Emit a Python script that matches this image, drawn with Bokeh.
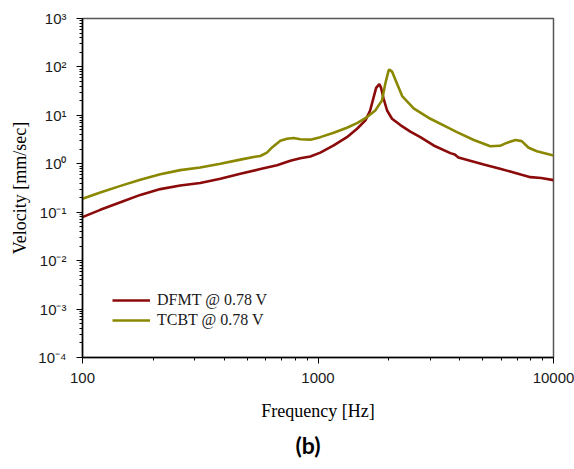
from bokeh.plotting import figure
from bokeh.models import FixedTicker, CustomJSTickFormatter, Range1d, Title
from bokeh.embed import file_html
from bokeh.resources import INLINE

# ---- data ----
dfmt_freq = [100, 119, 145, 176, 214, 260, 316, 385, 468, 569, 670, 763, 841, 928,
             1023, 1166, 1327, 1465, 1590, 1665, 1720, 1766, 1821, 1850, 1900, 1965,
             2062, 2238, 2466, 2720, 3098, 3648, 3810, 3945, 5056, 5930, 7260, 7980,
             8860, 10000]
dfmt_vel = [0.079, 0.112, 0.16, 0.228, 0.30, 0.356, 0.40, 0.49, 0.62, 0.78, 0.93, 1.15,
            1.30, 1.42, 1.70, 2.39, 3.55, 5.3, 7.9, 12.6, 23.0, 37.0, 44.0, 38.0, 22.0,
            12.6, 8.5, 6.3, 4.6, 3.55, 2.39, 1.66, 1.56, 1.35, 0.97, 0.79, 0.60, 0.53,
            0.51, 0.46]

tcbt_freq = [100, 119, 145, 176, 214, 260, 316, 385, 468, 540, 569, 607, 640, 692, 738,
             788, 841, 928, 1023, 1166, 1327, 1465, 1616, 1751, 1870, 1930, 1995, 2010,
             2062, 2166, 2277, 2548, 3000, 3532, 3890, 4590, 5390, 5930, 6320, 6900,
             7330, 7840, 8500, 10000]
tcbt_vel = [0.189, 0.255, 0.35, 0.47, 0.61, 0.74, 0.84, 1.0, 1.22, 1.40, 1.45, 1.7, 2.2,
            3.0, 3.3, 3.4, 3.2, 3.15, 3.55, 4.37, 5.56, 6.92, 9.2, 12.6, 20.4, 45.0, 85.0,
            88.0, 80.0, 45.0, 25.0, 14.0, 8.5, 5.7, 4.5, 3.1, 2.31, 2.35, 2.7, 3.1, 2.94,
            2.14, 1.82, 1.49]

series_names = ["DFMT @ 0.78 V", "TCBT @ 0.78 V"]
series_colors = ["#8b0a0a", "#8a8800"]

x_major = [100, 1000, 10000]
y_major = [1e-4, 1e-3, 1e-2, 1e-1, 1, 10, 100, 1000]
x_minor = [m * 10 ** k for k in (2, 3) for m in range(2, 10)]
y_minor = [m * 10.0 ** k for k in range(-4, 3) for m in range(2, 10)]

p = figure(width=574, height=469, x_axis_type="log", y_axis_type="log",
           x_range=Range1d(100, 10000), y_range=Range1d(1e-4, 1e3),
           output_backend="svg", toolbar_location=None,
           min_border_left=82, min_border_right=21, min_border_top=18,
           min_border_bottom=112)

p.line(dfmt_freq, dfmt_vel, line_color=series_colors[0], line_width=2.6,
       legend_label=series_names[0])
p.line(tcbt_freq, tcbt_vel, line_color=series_colors[1], line_width=2.6,
       legend_label=series_names[1])

p.grid.visible = False
p.outline_line_color = "#555555"
p.outline_line_width = 1.5
p.background_fill_color = "white"
p.border_fill_color = "white"

p.xaxis.ticker = FixedTicker(ticks=x_major, minor_ticks=x_minor)
p.yaxis.ticker = FixedTicker(ticks=y_major, minor_ticks=y_minor)
p.xaxis.formatter = CustomJSTickFormatter(code="return tick.toFixed(0);")
p.yaxis.formatter = CustomJSTickFormatter(code="""
const e = Math.round(Math.log10(tick));
const sup = {"-": "\u207b", "0": "\u2070", "1": "\u00b9", "2": "\u00b2", "3": "\u00b3", "4": "\u2074"};
return "10" + String(e).split("").map(c => sup[c]).join("");
""")

for ax in (p.xaxis[0], p.yaxis[0]):
    ax.axis_line_color = "black"
    ax.axis_line_width = 1.5
    ax.major_tick_line_color = "black"
    ax.minor_tick_line_color = "black"
    ax.major_tick_in = 0
    ax.major_tick_out = 6
    ax.minor_tick_in = 0
    ax.minor_tick_out = 3
    ax.major_label_text_font = "Liberation Sans"
    ax.major_label_text_font_size = "15px"
    ax.major_label_text_color = "#1a1a1a"
    ax.axis_label_text_font = "Liberation Serif"
    ax.axis_label_text_font_size = "18px"
    ax.axis_label_text_font_style = "normal"
    ax.axis_label_text_color = "black"

p.xaxis.axis_label = "Frequency [Hz]"
p.yaxis.axis_label = "Velocity [mm/sec]"
p.xaxis.major_label_standoff = 9
p.yaxis.major_label_standoff = 10
p.xaxis.axis_label_standoff = 15
p.yaxis.axis_label_standoff = 5

lg = p.legend[0]
lg.location = (30, 27)
lg.padding = 0
lg.margin = 0
lg.spacing = 0
lg.glyph_width = 38
lg.glyph_height = 20
lg.label_height = 20
lg.label_standoff = 7
lg.border_line_alpha = 0
lg.background_fill_alpha = 0
lg.label_text_font = "Liberation Serif"
lg.label_text_font_size = "16px"
lg.label_text_color = "#1a1a1a"

p.add_layout(Title(text="(b)", align="left", offset=213, standoff=11,
                   text_font="Lato", text_font_style="bold",
                   text_font_size="23px", text_color="black"), "below")

open("out.html", "w").write(file_html(p, INLINE))
